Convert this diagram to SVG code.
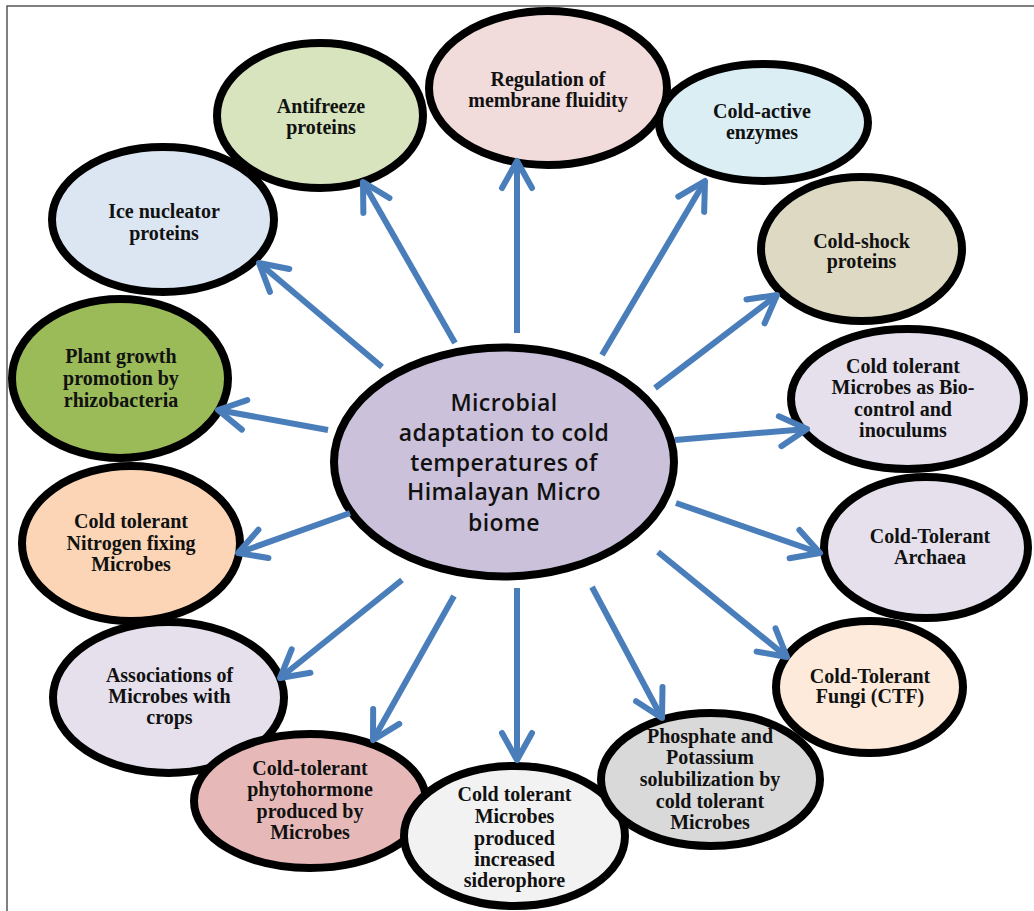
<svg xmlns="http://www.w3.org/2000/svg" width="1034" height="911" viewBox="0 0 1034 911">
<style>
.n ellipse{stroke:#000;stroke-width:8}
.n text{font-family:"Liberation Serif","Times New Roman",serif;font-weight:bold;font-size:20px;fill:#111;text-anchor:middle}
.c text{font-family:"Open Sans","Liberation Sans",sans-serif;font-weight:600;font-size:23px;letter-spacing:0.4px;fill:#111;text-anchor:middle}
.e line{stroke:#4a7ebb;stroke-width:6;marker-end:url(#ah)}
</style>
<defs>
<marker id="ah" markerUnits="userSpaceOnUse" viewBox="-36 -22 42 44" markerWidth="42" markerHeight="44" refX="0" refY="0" orient="auto">
<path d="M-27,-15 L0,0 L-27,15" fill="none" stroke="#4a7ebb" stroke-width="6" stroke-linecap="round" stroke-linejoin="round"/>
</marker>
</defs>
<rect width="1034" height="911" fill="#fff"/>
<path d="M7,911 V6 H1034" fill="none" stroke="#555" stroke-width="1.5"/>

<g id="n-regulation" class="n"><ellipse cx="548" cy="88" rx="119" ry="77" fill="#f2dcdb"/><text x="548" y="86">Regulation of</text><text x="548" y="107">membrane fluidity</text></g>
<g id="n-antifreeze" class="n"><ellipse cx="320" cy="115.5" rx="103" ry="72.5" fill="#d7e4bd"/><text x="321" y="112.5">Antifreeze</text><text x="321" y="134">proteins</text></g>
<g id="n-coldactive" class="n"><ellipse cx="763.5" cy="122.5" rx="104.5" ry="58.5" fill="#dbeef4"/><text x="762" y="118">Cold-active</text><text x="762" y="139">enzymes</text></g>
<g id="n-icenucleator" class="n"><ellipse cx="163" cy="219.5" rx="111" ry="72.5" fill="#dce6f2"/><text x="164" y="218">Ice nucleator</text><text x="164" y="240">proteins</text></g>
<g id="n-coldshock" class="n"><ellipse cx="861.5" cy="249" rx="100.5" ry="72" fill="#ddd9c3"/><text x="861.5" y="248">Cold-shock</text><text x="861.5" y="268">proteins</text></g>
<g id="n-plantgrowth" class="n"><ellipse cx="120" cy="378.5" rx="108" ry="79.5" fill="#9bbb59"/><text x="121" y="363">Plant growth</text><text x="121" y="385">promotion by</text><text x="121" y="407">rhizobacteria</text></g>
<g id="n-biocontrol" class="n"><ellipse cx="907.5" cy="399" rx="116.5" ry="70" fill="#e5e0ec"/><text x="903" y="373">Cold tolerant</text><text x="903" y="394">Microbes as Bio-</text><text x="903" y="416">control and</text><text x="903" y="437">inoculums</text></g>
<g id="n-nitrogen" class="n"><ellipse cx="131" cy="543.5" rx="109" ry="77.5" fill="#fbd5b5"/><text x="131" y="528">Cold tolerant</text><text x="131" y="550">Nitrogen fixing</text><text x="131" y="571">Microbes</text></g>
<g id="n-archaea" class="n"><ellipse cx="926" cy="547.5" rx="102" ry="70.5" fill="#e5e0ec"/><text x="930" y="543">Cold-Tolerant</text><text x="930" y="564">Archaea</text></g>
<g id="n-associations" class="n"><ellipse cx="168.5" cy="697.5" rx="115.5" ry="75.5" fill="#e5e0ec"/><text x="169.5" y="682">Associations of</text><text x="169.5" y="703">Microbes with</text><text x="169.5" y="724">crops</text></g>
<g id="n-fungi" class="n"><ellipse cx="869.5" cy="687" rx="93.5" ry="66" fill="#fdeada"/><text x="870" y="683">Cold-Tolerant</text><text x="870" y="703">Fungi (CTF)</text></g>
<g id="n-phytohormone" class="n"><ellipse cx="310" cy="801" rx="116" ry="67" fill="#e6b9b8"/><text x="310" y="775">Cold-tolerant</text><text x="310" y="796">phytohormone</text><text x="310" y="818">produced by</text><text x="310" y="839">Microbes</text></g>
<g id="n-siderophore" class="n"><ellipse cx="514.5" cy="836" rx="110.5" ry="70" fill="#f2f2f2"/><text x="514.5" y="801">Cold tolerant</text><text x="514.5" y="823">Microbes</text><text x="514.5" y="845">produced</text><text x="514.5" y="866">increased</text><text x="514.5" y="887">siderophore</text></g>
<g id="n-phosphate" class="n"><ellipse cx="710.5" cy="779.5" rx="109.5" ry="66.5" fill="#d9d9d9"/><text x="710" y="743">Phosphate and</text><text x="710" y="764">Potassium</text><text x="710" y="786">solubilization by</text><text x="710" y="808">cold tolerant</text><text x="710" y="829">Microbes</text></g>

<g id="n-center" class="n c"><ellipse cx="504" cy="462" rx="170" ry="114.5" fill="#ccc1da"/><text x="504" y="411">Microbial</text><text x="504" y="441">adaptation to cold</text><text x="504" y="471">temperatures of</text><text x="504" y="500">Himalayan Micro</text><text x="504" y="531">biome</text></g>

<g id="edges" class="e">
<line x1="517" y1="333" x2="517" y2="161"/>
<line x1="455" y1="343" x2="363" y2="182"/>
<line x1="602" y1="355" x2="705" y2="181"/>
<line x1="382" y1="367" x2="259" y2="263"/>
<line x1="655" y1="388" x2="777" y2="295"/>
<line x1="675" y1="440" x2="807" y2="429"/>
<line x1="328" y1="430" x2="218" y2="410"/>
<line x1="350" y1="513" x2="238" y2="553"/>
<line x1="676" y1="503" x2="820" y2="553"/>
<line x1="658" y1="552" x2="787" y2="657"/>
<line x1="592" y1="587" x2="662" y2="718"/>
<line x1="517" y1="588" x2="517" y2="760"/>
<line x1="402" y1="580" x2="280" y2="678"/>
<line x1="454" y1="596" x2="373" y2="740"/>
</g>
</svg>
